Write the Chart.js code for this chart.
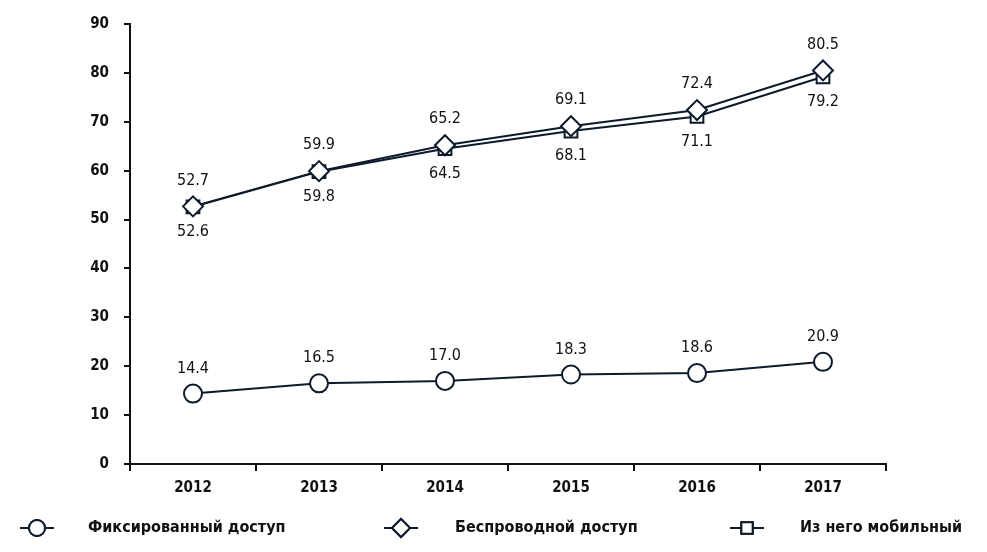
<!DOCTYPE html>
<html>
<head>
<meta charset="utf-8">
<script src="https://cdn.jsdelivr.net/npm/chart.js@4/dist/chart.umd.min.js"></script>
<style>
    html, body { margin: 0; padding: 0; background: #fff; }
    #wrap { width: 987px; height: 552px; position: relative; }
</style>
</head>
<body>
<div id="wrap"><canvas id="chart"></canvas></div>
<script>
const years = ['2012', '2013', '2014', '2015', '2016', '2017'];
const fixedAccess = [14.4, 16.5, 17.0, 18.3, 18.6, 20.9];
const wirelessAccess = [52.7, 59.9, 65.2, 69.1, 72.4, 80.5];
const mobileAccess = [52.6, 59.8, 64.5, 68.1, 71.1, 79.2];
const seriesNames = ['Фиксированный доступ', 'Беспроводной доступ', 'Из него мобильный'];
const yTicks = [0, 10, 20, 30, 40, 50, 60, 70, 80, 90];

const FONT = '"Liberation Sans Narrow", "DejaVu Sans Condensed", "Roboto", sans-serif';
const lineColor = '#0c1a2b';

// Value labels: offset in px, negative = above the point
const labelOffsets = [-25, -26, 25];

const valueLabels = {
    id: 'valueLabels',
    afterDatasetsDraw(chart) {
        const ctx = chart.ctx;
        ctx.save();
        ctx.font = '16px ' + FONT;
        ctx.fillStyle = '#111';
        ctx.textAlign = 'center';
        ctx.textBaseline = 'middle';
        chart.data.datasets.forEach((ds, i) => {
            const meta = chart.getDatasetMeta(i);
            meta.data.forEach((pt, j) => {
                ctx.fillText(ds.data[j].toFixed(1), pt.x, pt.y + labelOffsets[i]);
            });
        });
        ctx.restore();
    }
};

// Legend with line + marker, drawn below the axis
const bottomLegend = {
    id: 'bottomLegend',
    afterDraw(chart) {
        const ctx = chart.ctx;
        const y = 528;
        const items = [
            { lx: 20, tx: 88, style: 'circle', r: 8 },
            { lx: 384, tx: 455, style: 'rectRot', r: 9 },
            { lx: 730, tx: 800, style: 'rect', r: 8 }
        ];
        ctx.save();
        items.forEach((it, i) => {
            ctx.strokeStyle = lineColor;
            ctx.lineWidth = 2;
            ctx.beginPath();
            ctx.moveTo(it.lx, y);
            ctx.lineTo(it.lx + 34, y);
            ctx.stroke();
            ctx.fillStyle = '#fff';
            Chart.helpers.drawPoint(ctx, { pointStyle: it.style, radius: it.r, borderWidth: 2 }, it.lx + 17, y);
            ctx.fill();
            ctx.stroke();
            ctx.fillStyle = '#111';
            ctx.font = 'bold 16px ' + FONT;
            ctx.textAlign = 'left';
            ctx.textBaseline = 'middle';
            ctx.fillText(seriesNames[i], it.tx, y);
        });
        ctx.restore();
    }
};

const baseDs = {
    borderColor: lineColor,
    borderWidth: 2,
    pointBackgroundColor: '#fff',
    pointBorderColor: lineColor,
    pointBorderWidth: 2,
    tension: 0
};

new Chart(document.getElementById('chart'), {
    type: 'line',
    data: {
        labels: years,
        datasets: [
            Object.assign({}, baseDs, { label: seriesNames[0], data: fixedAccess, pointStyle: 'circle', pointRadius: 9 }),
            Object.assign({}, baseDs, { label: seriesNames[1], data: wirelessAccess, pointStyle: 'rectRot', pointRadius: 10 }),
            Object.assign({}, baseDs, { label: seriesNames[2], data: mobileAccess, pointStyle: 'rect', pointRadius: 9 })
        ]
    },
    options: {
        responsive: true,
        maintainAspectRatio: false,
        animation: false,
        layout: { padding: { left: 0, right: 101, top: 21, bottom: 50 } },
        plugins: { legend: { display: false }, tooltip: { enabled: false } },
        scales: {
            x: {
                offset: true,
                grid: { display: true, offset: true, drawOnChartArea: false, drawTicks: true, tickLength: 7, color: '#111', lineWidth: 2 },
                border: { color: '#111', width: 2 },
                ticks: { color: '#111', padding: 8, font: { family: FONT, size: 15, weight: 'bold' } },
                afterFit: s => { s.height = 38; }
            },
            y: {
                min: 0,
                max: 90,
                afterBuildTicks: s => { s.ticks = yTicks.map(v => ({ value: v })); },
                grid: { display: true, drawOnChartArea: false, drawTicks: true, tickLength: 6, color: '#111', lineWidth: 2 },
                border: { color: '#111', width: 2 },
                ticks: { color: '#111', padding: 15, font: { family: FONT, size: 15, weight: 'bold' } },
                afterFit: s => { s.width = 130; }
            }
        }
    },
    plugins: [valueLabels, bottomLegend]
});
</script>
</body>
</html>
